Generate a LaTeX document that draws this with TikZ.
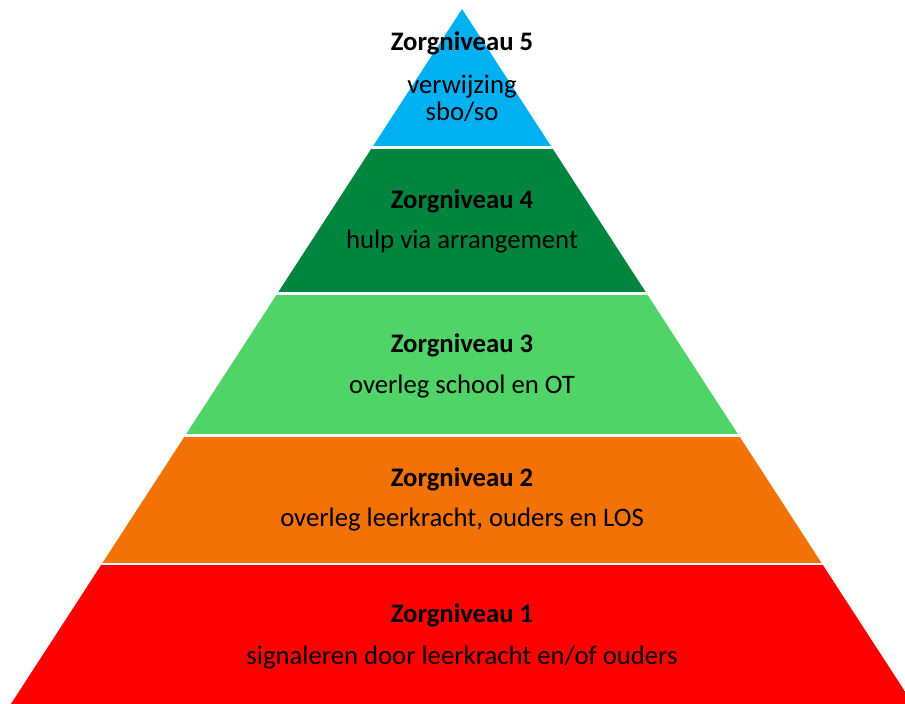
\documentclass[tikz,border=0pt]{standalone}
\usepackage{fontspec}
\setmainfont{Carlito}
\definecolor{lvlfive}{RGB}{0,176,240}
\definecolor{lvlfour}{RGB}{0,133,62}
\definecolor{lvlthree}{RGB}{80,212,104}
\definecolor{lvltwo}{RGB}{243,114,5}
\definecolor{lvlone}{RGB}{255,0,0}
\tikzset{
  title/.style={anchor=base, inner sep=0pt, font=\fontsize{26.7}{32}\selectfont\bfseries},
  desc/.style={anchor=base, inner sep=0pt, font=\fontsize{26.7}{32}\selectfont},
  gap/.style={draw=white, line width=2.6pt}
}
\begin{document}
\begin{tikzpicture}[x=1pt,y=-1pt]
\useasboundingbox (0,0) rectangle (905,704);
\begin{scope}
\clip (462,9) -- (917,710) -- (7,710) -- cycle;
\fill[lvlfive]  (0,0)     rectangle (905,147.7);
\fill[lvlfour]  (0,147.7) rectangle (905,293.3);
\fill[lvlthree] (0,293.3) rectangle (905,435.6);
\fill[lvltwo]   (0,435.6) rectangle (905,563.8);
\fill[lvlone]   (0,563.8) rectangle (905,710);
\draw[gap] (0,147.7) -- (905,147.7);
\draw[gap] (0,293.3) -- (905,293.3);
\draw[gap] (0,435.6) -- (905,435.6);
\draw[gap] (0,563.8) -- (905,563.8);
\end{scope}
\node[title] (t5) at (462,50) {Zorgniveau 5};
\node[desc]  (d5a) at (462,93) {verwijzing};
\node[desc]  (d5b) at (462,120) {sbo/so};
\node[title] (t4) at (462,208.3) {Zorgniveau 4};
\node[desc]  (d4) at (462,248.3) {hulp via arrangement};
\node[title] (t3) at (462,352.7) {Zorgniveau 3};
\node[desc]  (d3) at (462,393.3) {overleg school en OT};
\node[title] (t2) at (462,486) {Zorgniveau 2};
\node[desc]  (d2) at (462,526.7) {overleg leerkracht, ouders en LOS};
\node[title] (t1) at (462,622.7) {Zorgniveau 1};
\node[desc]  (d1) at (462,664) {signaleren door leerkracht en/of ouders};
\end{tikzpicture}
\end{document}
